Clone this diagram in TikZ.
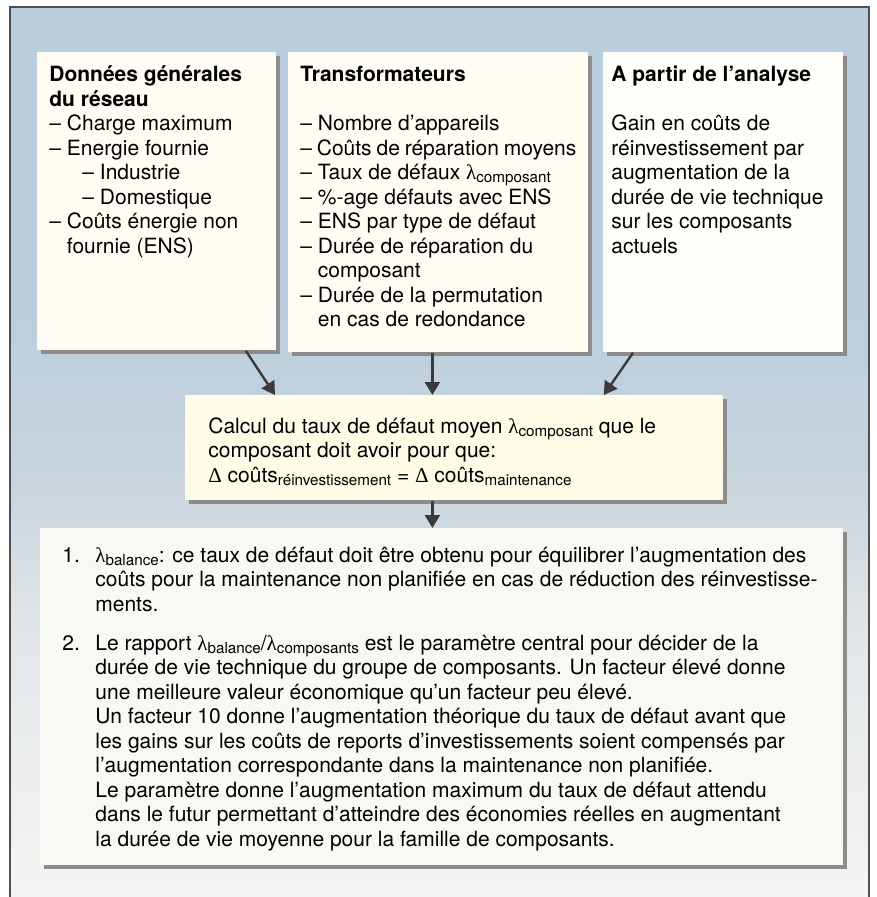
\documentclass[tikz,border=0pt]{standalone}
\usepackage{fontspec}
\setmainfont{TeX Gyre Heros}
\newfontfamily\greekfont{Liberation Serif}
\usepackage{xcolor}
\usetikzlibrary{
    positioning,                      % placement relatif
    arrows.meta,                      % pointes Triangle
    calc,                             % coordonnees calculees
    shadows                           % ombres portees des cadres
}
\definecolor{bg_top}{RGB}{186,206,221}
\definecolor{bg_mid}{RGB}{201,212,221}
\definecolor{bg_low}{RGB}{228,232,234}
\definecolor{bg_bottom}{RGB}{244,244,242}
\definecolor{card_cream}{RGB}{255,253,243}
\definecolor{card_white}{RGB}{255,254,250}
\definecolor{card_yellow}{RGB}{254,251,231}
\definecolor{card_grey}{RGB}{248,248,244}
\definecolor{frame_line}{RGB}{80,80,80}
\definecolor{arrow_dark}{RGB}{58,58,58}
\pgfdeclareverticalshading{panelfade}{100bp}{
    color(0bp)=(bg_bottom); color(25bp)=(bg_bottom);
    color(39bp)=(bg_low); color(48.5bp)=(bg_mid);
    color(58.5bp)=(bg_top); color(100bp)=(bg_top)}
\newcommand\glam{{\greekfont λ}}
\newcommand\gdel{{\greekfont Δ}}
\newcommand\lowtxt[1]{\raisebox{-0.3ex}{\fontsize{7.6}{8}\selectfont #1}}
\newcommand\itemno[1]{\leavevmode\llap{\makebox[16.5pt][l]{#1}}}
\tikzset{
    card/.style={
        fill=card_cream, anchor=north west, align=left,
        inner xsep=6pt, inner ysep=6pt,
        drop shadow={shadow xshift=1.6pt, shadow yshift=-1.6pt,
                     fill=black!45, opacity=1}
    },
    flow/.style={
        -{Triangle[length=6.5pt,width=7.5pt]}, line width=1.2pt, draw=arrow_dark
    }
}

\begin{document}
\begin{tikzpicture}[x=0.5pt, y=-0.5pt, font=\fontsize{10.5}{12.25}\selectfont]

    \useasboundingbox (0,0) rectangle (876,897);

    % --- Fond degrade et cadre ouvert en bas ---
    \shade[shading=panelfade] (10,7) rectangle (869,897);
    \draw[frame_line, line width=0.6pt] (10,897) -- (10,7) -- (869,7) -- (869,897);

    % --- Cadres d'entree (rangee du haut) ---
    \node[card, minimum width=119.5pt, minimum height=149pt] (netdata) at (37,52)
        {\parbox[t][137pt][t]{107.5pt}{\strut\textbf{Données générales}\\
         \textbf{du réseau}\\
         – Charge maximum\\
         – Energie fournie\\
         \hspace*{16.5pt}– Industrie\\
         \hspace*{16.5pt}– Domestique\\
         – Coûts énergie non\\
         \phantom{– }fournie (ENS)}};

    \node[card, minimum width=150pt, minimum height=150pt] (trafo) at (288,52)
        {\parbox[t][138pt][t]{138pt}{\strut\textbf{Transformateurs}\\[12.25pt]
         – Nombre d’appareils\\
         – Coûts de réparation moyens\\
         – Taux de défaux \glam\lowtxt{composant}\\
         – \%-age défauts avec ENS\\
         – ENS par type de défaut\\
         – Durée de réparation du\\
         \phantom{– }composant\\
         – Durée de la permutation\\
         \phantom{– }en cas de redondance}};

    \node[card, fill=card_white, inner xsep=4pt, minimum width=120pt, minimum height=150pt] (analysis) at (603,52)
        {\parbox[t][138pt][t]{112pt}{\strut\textbf{A partir de l’analyse}\\[12.25pt]
         Gain en coûts de\\
         réinvestissement par\\
         augmentation de la\\
         durée de vie technique\\
         sur les composants\\
         actuels}};

    % --- Calcul central ---
    \node[card, fill=card_yellow, inner xsep=11.5pt] (calc) at (185,395)
        {\parbox[t][40.5pt][t]{246pt}{\rule{0pt}{13pt}Calcul du taux de défaut moyen \glam\lowtxt{composant} que le\\
         composant doit avoir pour que:\\
         \gdel{} coûts\lowtxt{réinvestissement} = \gdel{} coûts\lowtxt{maintenance}}};

    % --- Resultat ---
    \node[card, fill=card_grey, inner xsep=11pt] (result) at (40,528)
        {\parbox[t][156.5pt][t]{379.5pt}{\leftskip=16.5pt \rightskip=0pt plus 1fil minus 12pt
         \itemno{1.}\rule{0pt}{11pt}\glam\lowtxt{balance}: ce taux de défaut doit être obtenu pour équilibrer l’augmentation des\\
         coûts pour la maintenance non planifiée en cas de réduction des réinvestisse-\\
         ments.\par\vspace{7.25pt}
         \itemno{2.}Le rapport \glam\lowtxt{balance}/\glam\lowtxt{composants} est le paramètre central pour décider de la\\
         durée de vie technique du groupe de composants. Un facteur élevé donne\\
         une meilleure valeur économique qu’un facteur peu élevé.\\
         Un facteur 10 donne l’augmentation théorique du taux de défaut avant que\\
         les gains sur les coûts de reports d’investissements soient compensés par\\
         l’augmentation correspondante dans la maintenance non planifiée.\\
         Le paramètre donne l’augmentation maximum du taux de défaut attendu\\
         dans le futur permettant d’atteindre des économies réelles en augmentant\\
         la durée de vie moyenne pour la famille de composants.}};

    % ================= FLECHES =================
    \draw[flow] ([xshift=-15.5pt]netdata.south east) -- ([xshift=45pt]calc.north west);
    \draw[flow] ([xshift=-3pt]trafo.south) -- ([xshift=-3pt]trafo.south |- calc.north);
    \draw[flow] ([xshift=15pt]analysis.south west) -- ([xshift=-60pt]calc.north east);
    \draw[flow] ([xshift=-11pt]calc.south) -- ([xshift=-11pt]calc.south |- result.north);

\end{tikzpicture}
\end{document}
